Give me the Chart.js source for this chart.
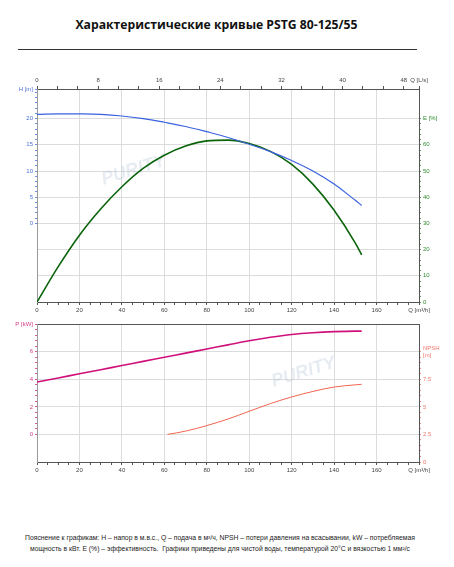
<!DOCTYPE html>
<html>
<head>
<meta charset="utf-8">
<script src="https://cdn.jsdelivr.net/npm/chart.js@4.4.1/dist/chart.umd.min.js"></script>
<style>
  body { margin: 0; background: #fff; width: 454px; height: 567px; position: relative; overflow: hidden; font-family: "Liberation Sans", Arial, sans-serif; }
  #title { position: absolute; left: 0; top: 16px; width: 433px; text-align: center; font: bold 12.2px "Open Sans", "Liberation Sans", sans-serif; color: #111; }
  #rule { position: absolute; left: 18px; top: 49px; width: 399px; border-top: 1px solid #333; }
  #topWrap { position: absolute; left: 0; top: 70px; }
  #botWrap { position: absolute; left: 0; top: 315px; }
  #note { position: absolute; left: 0; top: 532px; width: 440px; text-align: center; font-size: 6.8px; line-height: 11px; color: #222; }
</style>
</head>
<body>
<div id="title">Характеристические кривые PSTG 80-125/55</div>
<div id="rule"></div>
<div id="topWrap"><canvas id="top-chart" width="454" height="250"></canvas></div>
<div id="botWrap"><canvas id="bot-chart" width="454" height="165"></canvas></div>
<div id="note">Пояснение к графикам: H – напор в м.в.с., Q – подача в м³/ч, NPSH – потери давления на всасывании, kW – потребляемая<br>мощность в кВт. E (%) – эффективность.&nbsp; Графики приведены для чистой воды, температурой 20°C и вязкостью 1 мм²/с</div>

<script>
// Данные кривых
const flowQ  = [0, 10, 20, 30, 40, 50, 60, 70, 80, 90, 100, 110, 120, 130, 140, 150, 153];
const headH  = [20.8, 20.9, 20.9, 20.8, 20.5, 20.0, 19.3, 18.5, 17.5, 16.4, 15.1, 13.7, 12.0, 10.0, 7.5, 4.4, 3.4];
const effE   = [0, 13.5, 25.5, 35.5, 44, 51, 56, 59.5, 61.5, 61.8, 60.5, 57.5, 52.5, 45, 35, 22.5, 18];
const powerP = [3.8, 4.1, 4.4, 4.7, 5.0, 5.3, 5.6, 5.9, 6.2, 6.5, 6.8, 7.05, 7.25, 7.38, 7.46, 7.5, 7.5];
const npshQ  = [61.5, 70, 80, 90, 100, 110, 120, 130, 140, 150, 153];
const npshM  = [2.5, 2.8, 3.3, 3.9, 4.6, 5.3, 5.9, 6.4, 6.8, 7.0, 7.05];

const GRID = '#dcdcdc';
const AXIS = '#555';
const tickFont = { size: 6, family: 'Liberation Sans' };

const pts = (xs, ys) => xs.map((x, i) => ({ x: x, y: ys[i] }));

// Общая ось Q [м³/ч] снизу
function flowAxis(){
    return {
        type: 'linear', position: 'bottom', min: 0, max: 180,
        afterBuildTicks: s => { s.ticks = []; for (let i = 0; i <= 36; i++) s.ticks.push({ value: i * 5 }); },
        afterFit: s => { s.height = 18; },
        ticks: {
            autoSkip: false, maxRotation: 0, font: tickFont, color: '#444', padding: 2,
            callback: v => v === 180 ? 'Q [m³/h]' : (v % 20 === 0 ? v : '')
        },
        grid: {
            color: c => (c.tick && c.tick.value % 20 === 0 && c.tick.value > 0 && c.tick.value < 180) ? GRID : 'transparent',
            tickColor: AXIS, tickLength: 3
        },
        border: { color: AXIS }
    };
}

// Водяной знак
const watermark = {
    id: 'watermark',
    beforeDatasetsDraw(chart, args, opts){
        const ctx = chart.ctx;
        ctx.save();
        ctx.translate(opts.x, opts.y);
        ctx.rotate(-0.3);
        ctx.fillStyle = 'rgba(170,185,210,0.28)';
        ctx.font = 'bold italic 18px "Liberation Sans"';
        ctx.textAlign = 'center';
        ctx.fillText('PURITY', 0, 0);
        ctx.restore();
    }
};

// Верхний график: H и E
new Chart(document.getElementById('top-chart'), {
    type: 'line',
    data: {
        datasets: [
            { label: 'H', data: pts(flowQ, headH), yAxisID: 'yH', borderColor: '#3a62e0', borderWidth: 1.2, pointRadius: 0, tension: 0.4 },
            { label: 'E', data: pts(flowQ, effE), yAxisID: 'yE', borderColor: '#0b640b', borderWidth: 1.6, pointRadius: 0, cubicInterpolationMode: 'monotone' }
        ]
    },
    options: {
        responsive: false, animation: false, devicePixelRatio: 1,
        layout: { padding: 0 },
        plugins: { legend: { display: false }, tooltip: { enabled: false }, watermark: { x: 135, y: 105 } },
        scales: {
            x: flowAxis(),
            x2: {
                type: 'linear', position: 'top', min: 0, max: 50,
                afterBuildTicks: s => { s.ticks = []; for (let i = 0; i <= 18; i++) s.ticks.push({ value: i * 8 / 3, major: i % 3 === 0 }); s.ticks.push({ value: 50 }); },
                afterFit: s => { s.height = 19; },
                ticks: {
                    autoSkip: false, maxRotation: 0, font: tickFont, color: '#444', padding: 2,
                    callback: (v, i) => v === 50 ? 'Q [L/s]' : (i % 3 === 0 ? Math.round(v) : '')
                },
                grid: { drawOnChartArea: false, tickColor: AXIS, tickLength: 3 },
                border: { color: AXIS }
            },
            yH: {
                type: 'linear', position: 'left', min: -15, max: 25.65,
                afterBuildTicks: s => { s.ticks = []; for (let i = 0; i <= 25; i++) s.ticks.push({ value: i }); s.ticks.push({ value: 25.65 }); },
                afterFit: s => { s.width = 37; },
                ticks: {
                    autoSkip: false, font: tickFont, color: '#4a6fd8', padding: 2,
                    callback: v => v === 25.65 ? 'H [m]' : (v % 5 === 0 && v <= 20 ? v : '')
                },
                grid: { drawOnChartArea: false, tickColor: '#6f8ee0', tickLength: 2 },
                border: { color: '#999' }
            },
            yE: {
                type: 'linear', position: 'right', min: 0, max: 81.3,
                afterBuildTicks: s => { s.ticks = []; for (let i = 0; i <= 35; i++) s.ticks.push({ value: i * 2 }); },
                afterFit: s => { s.width = 35; },
                ticks: {
                    autoSkip: false, font: tickFont, color: '#2f8a2f', padding: 2,
                    callback: v => v === 70 ? 'E [%]' : (v % 10 === 0 ? v : '')
                },
                grid: {
                    color: c => (c.tick && c.tick.value % 10 === 0 && c.tick.value > 0) ? GRID : 'transparent',
                    tickColor: '#5a9a5a', tickLength: 2
                },
                border: { color: AXIS }
            }
        }
    },
    plugins: [watermark]
});

// Нижний график: P и NPSH
new Chart(document.getElementById('bot-chart'), {
    type: 'line',
    data: {
        datasets: [
            { label: 'P', data: pts(flowQ, powerP), yAxisID: 'yP', borderColor: '#d0107a', borderWidth: 1.6, pointRadius: 0, cubicInterpolationMode: 'monotone' },
            { label: 'NPSH', data: pts(npshQ, npshM), yAxisID: 'yN', borderColor: '#f2644f', borderWidth: 1, pointRadius: 0, cubicInterpolationMode: 'monotone' }
        ]
    },
    options: {
        responsive: false, animation: false, devicePixelRatio: 1,
        layout: { padding: 0 },
        plugins: { legend: { display: false }, tooltip: { enabled: false }, watermark: { x: 305, y: 62 } },
        scales: {
            x: flowAxis(),
            x2: {
                type: 'linear', position: 'top', min: 0, max: 180,
                afterFit: s => { s.height = 6; },
                ticks: { display: false },
                grid: { drawOnChartArea: false, drawTicks: false },
                border: { color: AXIS }
            },
            yP: {
                type: 'linear', position: 'left', min: -2, max: 8,
                afterBuildTicks: s => { s.ticks = []; for (let i = 0; i <= 20; i++) s.ticks.push({ value: i * 0.4 }); },
                afterFit: s => { s.width = 37; },
                ticks: {
                    autoSkip: false, font: tickFont, color: '#d63a8a', padding: 2,
                    callback: (v, i) => i === 20 ? 'P [kW]' : (i % 5 === 0 ? Math.round(v) : '')
                },
                grid: { drawOnChartArea: false, tickColor: '#d95a9a', tickLength: 2 },
                border: { color: '#999' }
            },
            yN: {
                type: 'linear', position: 'right', min: 0, max: 12.5,
                afterBuildTicks: s => { s.ticks = []; for (let i = 0; i <= 20; i++) s.ticks.push({ value: i * 0.5 }); },
                afterFit: s => { s.width = 35; },
                ticks: {
                    autoSkip: false, font: tickFont, color: '#f07a6a', padding: 2,
                    callback: (v, i) => i === 20 ? ['NPSH', '[m]'] : (i % 5 === 0 ? String(v) : '')
                },
                grid: {
                    color: c => (c.tick && c.index % 5 === 0 && c.index > 0) ? GRID : 'transparent',
                    tickColor: '#f28a7a', tickLength: 2
                },
                border: { color: AXIS }
            }
        }
    },
    plugins: [watermark]
});
</script>
</body>
</html>
